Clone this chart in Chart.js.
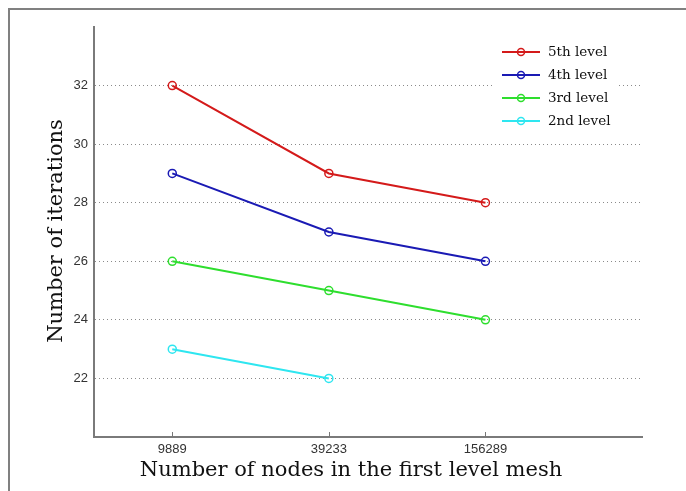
<!DOCTYPE html>
<html>
<head>
<meta charset="utf-8">
<script src="https://cdn.jsdelivr.net/npm/chart.js@4.4.1/dist/chart.umd.min.js"></script>
<style>
  html, body { margin: 0; padding: 0; background: #fff; }
  #wrap { position: relative; width: 686px; height: 491px; overflow: hidden; }
  #frame { position: absolute; left: 8px; top: 8px; width: 700px; height: 500px;
           border-top: 2px solid #808080; border-left: 2px solid #808080; pointer-events: none; }
</style>
</head>
<body>
<div id="wrap">
  <canvas id="myChart" width="686" height="491"></canvas>
  <div id="frame"></div>
</div>
<script>
// data
const nodeLabels = ['9889', '39233', '156289'];
const levelNames = ['5th level', '4th level', '3rd level', '2nd level'];
const level5 = [32, 29, 28];
const level4 = [29, 27, 26];
const level3 = [26, 25, 24];
const level2 = [23, 22, null];
const yTicks = [22, 24, 26, 28, 30, 32];

const colors = ['#d41a1a', '#1a1ab4', '#2ede2e', '#2ee6f0'];
const xTitle = 'Number of nodes in the first level mesh';
const yTitle = 'Number of iterations';

const toPoints = (vals) => vals.map((v, i) => ({ x: i + 1, y: v }));

const data = {
  datasets: [level5, level4, level3, level2].map((vals, i) => ({
    label: levelNames[i],
    data: toPoints(vals),
    borderColor: colors[i],
    backgroundColor: 'rgba(0,0,0,0)',
    borderWidth: 2,
    pointRadius: 4,
    pointBorderWidth: 1.5,
    pointBackgroundColor: 'rgba(0,0,0,0)',
    tension: 0,
    spanGaps: false
  }))
};

// legend, axis titles and the little inner x ticks (matlab style)
const extras = {
  id: 'extras',
  afterDraw(chart) {
    const ctx = chart.ctx;
    const xs = chart.scales.x;
    ctx.save();
    // inner ticks on x axis
    ctx.strokeStyle = '#777';
    ctx.lineWidth = 1;
    xs.ticks.forEach(t => {
      const px = Math.round(xs.getPixelForValue(t.value)) + 0.5;
      ctx.beginPath();
      ctx.moveTo(px, xs.top);
      ctx.lineTo(px, xs.top - 5);
      ctx.stroke();
    });

    // legend box
    ctx.fillStyle = '#fff';
    ctx.fillRect(494, 38, 124, 96);
    ctx.font = '13.5px "DejaVu Serif"';
    ctx.textBaseline = 'middle';
    chart.data.datasets.forEach((ds, i) => {
      const y = 52 + i * 23;
      ctx.strokeStyle = ds.borderColor;
      ctx.lineWidth = 2;
      ctx.beginPath();
      ctx.moveTo(502, y);
      ctx.lineTo(540, y);
      ctx.stroke();
      ctx.lineWidth = 1.5;
      ctx.beginPath();
      ctx.arc(521, y, 3.5, 0, Math.PI * 2);
      ctx.stroke();
      ctx.fillStyle = '#111';
      ctx.fillText(ds.label, 548, y);
    });

    // axis titles
    ctx.fillStyle = '#111';
    ctx.font = '21px "DejaVu Serif"';
    ctx.textAlign = 'center';
    ctx.textBaseline = 'middle';
    ctx.fillText(xTitle, 351, 471);
    ctx.translate(57, 231);
    ctx.rotate(-Math.PI / 2);
    ctx.fillText(yTitle, 0, 0);
    ctx.restore();
  }
};

const config = {
  type: 'line',
  data: data,
  options: {
    responsive: false,
    animation: false,
    devicePixelRatio: 1,
    layout: { padding: { left: 0, top: 27, right: 44, bottom: 0 } },
    plugins: { legend: { display: false }, tooltip: { enabled: false } },
    scales: {
      x: {
        type: 'linear',
        min: 0.5,
        max: 4,
        afterBuildTicks: (scale) => { scale.ticks = nodeLabels.map((l, i) => ({ value: i + 1 })); },
        afterFit: (scale) => { scale.height = 54; },
        ticks: {
          callback: (v) => nodeLabels[v - 1],
          font: { family: 'Liberation Sans', size: 13 },
          color: '#333',
          padding: 5,
          maxRotation: 0
        },
        grid: { display: false, drawTicks: false },
        border: { display: true, color: '#7a7a7a', width: 2 }
      },
      y: {
        min: 20,
        max: 34,
        afterBuildTicks: (scale) => { scale.ticks = yTicks.map(v => ({ value: v })); },
        afterFit: (scale) => { scale.width = 94; },
        ticks: {
          font: { family: 'Liberation Sans', size: 13 },
          color: '#333',
          padding: 6
        },
        grid: {
          color: '#8a8a8a',
          lineWidth: 1,
          drawTicks: false
        },
        border: { display: true, color: '#7a7a7a', width: 2, dash: [1, 3] }
      }
    }
  },
  plugins: [extras]
};

new Chart(document.getElementById('myChart'), config);
</script>
</body>
</html>
